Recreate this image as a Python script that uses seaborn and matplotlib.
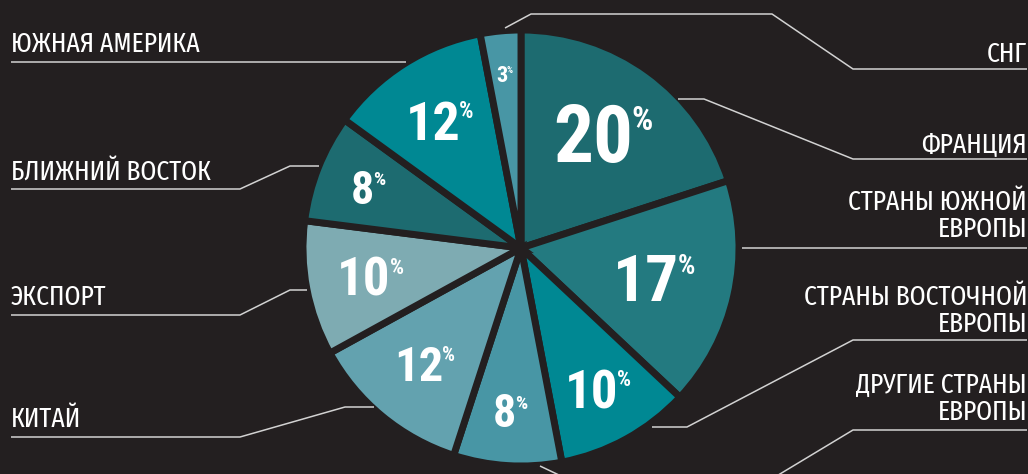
import numpy as np
import pandas as pd
import seaborn as sns
import matplotlib.pyplot as plt
from matplotlib import font_manager

# data, clockwise from 12 o'clock
regions = ['ФРАНЦИЯ', 'СТРАНЫ ЮЖНОЙ\nЕВРОПЫ', 'СТРАНЫ ВОСТОЧНОЙ\nЕВРОПЫ',
           'ДРУГИЕ СТРАНЫ\nЕВРОПЫ', 'КИТАЙ', 'ЭКСПОРТ', 'БЛИЖНИЙ ВОСТОК',
           'ЮЖНАЯ АМЕРИКА', 'СНГ']
shares = [20, 17, 10, 8, 12, 10, 8, 12, 3]

df = pd.DataFrame({'region': regions, 'share': shares})

# styling
bg = '#231f20'
slice_colors = ['#1d6b70', '#237a80', '#008893', '#4896a5', '#63a2af',
                '#7eabb2', '#1d6b70', '#008893', '#4896a5']
pct_size = [57, 47, 38, 33, 35, 38, 33, 39, 16]        # pt
pct_radius = [0.645, 0.63, 0.74, 0.75, 0.69, 0.70, 0.75, 0.69, 0.80]

W, H = 1028, 474
cx, cy, R = 521, 248, 218   # pixel coords, y from top

def Y(y):
    return H - y

# label side / anchor (x, first baseline from top) and leader paths
label_pos = {
    'ФРАНЦИЯ': ('right', 1027, 152),
    'СТРАНЫ ЮЖНОЙ\nЕВРОПЫ': ('right', 1027, 210),
    'СТРАНЫ ВОСТОЧНОЙ\nЕВРОПЫ': ('right', 1027, 305),
    'ДРУГИЕ СТРАНЫ\nЕВРОПЫ': ('right', 1027, 393),
    'КИТАЙ': ('left', 11, 427),
    'ЭКСПОРТ': ('left', 11, 305),
    'БЛИЖНИЙ ВОСТОК': ('left', 11, 180),
    'ЮЖНАЯ АМЕРИКА': ('left', 11, 52),
    'СНГ': ('right', 1027, 62),
}
leaders = [
    [(505, 28), (531, 14), (772, 14), (853, 69), (1027, 69)],
    [(678, 99), (704, 99), (853, 159), (1027, 159)],
    [(742, 248), (1027, 248)],
    [(652, 427), (687, 427), (853, 340), (1027, 340)],
    [(540, 466), (582, 486), (760, 486), (853, 430), (1027, 430)],
    [(11, 62), (406, 62)],
    [(11, 189), (240, 189), (290, 166), (319, 166)],
    [(11, 315), (240, 315), (290, 290), (307, 290)],
    [(11, 437), (240, 437), (345, 407), (374, 407)],
]

sns.set_theme(style='dark', rc={'axes.facecolor': bg, 'figure.facecolor': bg})
names = {f.name for f in font_manager.fontManager.ttflist}

def pick(cands):
    for c in cands:
        if c in names:
            return c
    return 'DejaVu Sans'

num_font = pick(['Roboto Condensed', 'PT Sans Narrow', 'Fira Sans Condensed'])
lab_font = pick(['Fira Sans Extra Condensed', 'Roboto Condensed', 'PT Sans Narrow'])
plt.rcParams['font.family'] = [num_font, 'DejaVu Sans']

fig = plt.figure(figsize=(W / 100, H / 100), dpi=100)
ax = fig.add_axes([0, 0, 1, 1])

palette = sns.color_palette(slice_colors)
wedges, _ = ax.pie(df['share'], colors=palette, startangle=90, counterclock=False,
                   center=(cx, Y(cy)), radius=R,
                   wedgeprops=dict(edgecolor=bg, linewidth=5))
ax.set_xlim(0, W)
ax.set_ylim(0, H)
ax.set_aspect('equal')
ax.axis('off')

# leader lines
for path in leaders:
    xs = [p[0] for p in path]
    ys = [Y(p[1]) for p in path]
    ax.plot(xs, ys, color='#d2d2d2', lw=1.1, solid_capstyle='butt', clip_on=True)

# region labels, one text per line, 27 px between baselines
for name in df['region']:
    side, x, yb = label_pos[name]
    for i, line in enumerate(name.split('\n')):
        ax.text(x, Y(yb + 27 * i), line, ha=side, va='baseline', color='white',
                fontsize=20, fontweight='normal', family=[lab_font, 'DejaVu Sans'])

# percentage labels
fig.canvas.draw()
rend = fig.canvas.get_renderer()
for w, v, fs, rf in zip(wedges, df['share'], pct_size, pct_radius):
    mid = np.deg2rad((w.theta1 + w.theta2) / 2)
    px = cx + rf * R * np.cos(mid)
    py = Y(cy) + rf * R * np.sin(mid)
    cap = 0.711 * fs * 100 / 72
    fs2 = fs * 0.42
    cap2 = 0.711 * fs2 * 100 / 72
    t1 = ax.text(px, py - cap / 2, str(v), ha='left', va='baseline', color='white',
                 fontsize=fs, fontweight='heavy')
    t2 = ax.text(px, py - cap / 2, '%', ha='left', va='baseline', color='white',
                 fontsize=fs2, fontweight='bold')
    w1 = t1.get_window_extent(rend).width
    w2 = t2.get_window_extent(rend).width
    x0 = px - (w1 + w2) / 2
    t1.set_x(x0)
    t2.set_position((x0 + w1 - 0.03 * fs, py + cap / 2 - cap2))

fig.savefig('out.png', dpi=100, facecolor=bg)
